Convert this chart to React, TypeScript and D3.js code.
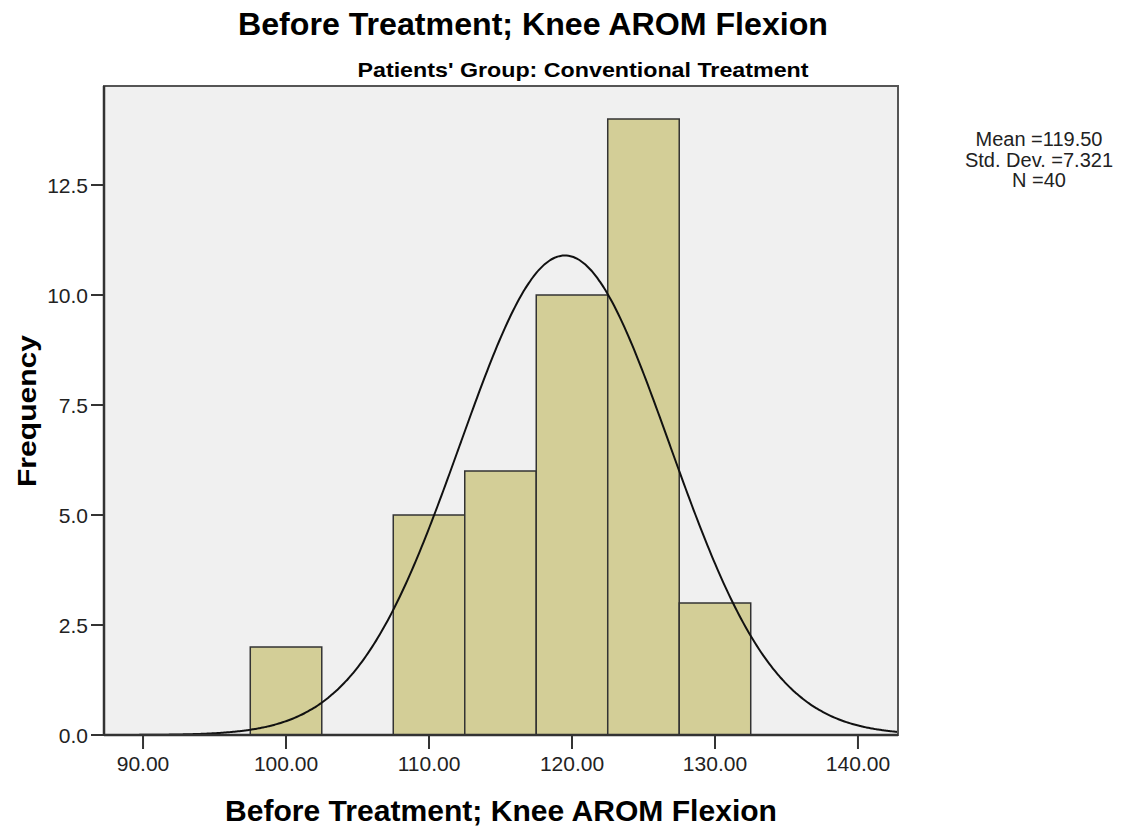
import React from "react";
import * as d3 from "d3";

const binStarts = [97.5, 102.5, 107.5, 112.5, 117.5, 122.5, 127.5];
const binWidth = 5;
const frequencies = [2, 0, 5, 6, 10, 14, 3];
const xTicks = [90, 100, 110, 120, 130, 140];
const yTicks = [0, 2.5, 5, 7.5, 10, 12.5];
const mean = 119.5;
const stdDev = 7.321;
const n = 40;
const statsLines = ["Mean =119.50", "Std. Dev. =7.321", "N =40"];

const W = 1126;
const H = 830;
const left = 104, right = 898, top = 86, bottom = 735;

export default function App() {
  const x = d3.scaleLinear().domain([87.27, 142.8]).range([left, right]);
  const y = d3.scaleLinear().domain([0, 14.75]).range([bottom, top]);
  const pdf = (v: number) =>
    (n * binWidth) / (stdDev * Math.sqrt(2 * Math.PI)) *
    Math.exp(-0.5 * ((v - mean) / stdDev) ** 2);
  const pts = d3.range(0, 401).map((i) => {
    const v = 87.27 + (i / 400) * (142.8 - 87.27);
    return [v, pdf(v)] as [number, number];
  });
  const line = d3.line<[number, number]>().x((d) => x(d[0])).y((d) => y(d[1])).curve(d3.curveBasis);
  const font = "'Liberation Sans', Arial, sans-serif";
  return (
    <svg width={W} height={H} style={{ position: "absolute", left: 0, top: 0 }} fontFamily={font}>
      <rect x={0} y={0} width={W} height={H} fill="#fff" />
      <text x={533} y={35} textAnchor="middle" fontSize={31} fontWeight="bold" fill="#000"
        textLength={590} lengthAdjust="spacingAndGlyphs">
        Before Treatment; Knee AROM Flexion
      </text>
      <text x={583} y={77} textAnchor="middle" fontSize={21} fontWeight="bold" fill="#000"
        textLength={451} lengthAdjust="spacingAndGlyphs">
        Patients' Group: Conventional Treatment
      </text>
      <rect x={left} y={top} width={right - left} height={bottom - top} fill="#f0f0f0" />
      {frequencies.map((f, i) =>
        f > 0 ? (
          <rect
            key={i}
            x={x(binStarts[i])}
            y={y(f)}
            width={x(binStarts[i] + binWidth) - x(binStarts[i])}
            height={y(0) - y(f)}
            fill="#d3ce97"
            stroke="#333"
            strokeWidth={1.5}
          />
        ) : null
      )}
      <path d={line(pts) || ""} fill="none" stroke="#111" strokeWidth={2} />
      <rect x={left} y={top} width={right - left} height={bottom - top} fill="none" stroke="#555" strokeWidth={2} />
      <line x1={left} x2={left} y1={top} y2={bottom} stroke="#333" strokeWidth={2.5} />
      <line x1={left} x2={right} y1={bottom} y2={bottom} stroke="#333" strokeWidth={2.5} />
      {yTicks.map((t) => (
        <g key={t}>
          <line x1={left - 13} x2={left} y1={y(t)} y2={y(t)} stroke="#333" strokeWidth={2} />
          <text x={88} y={y(t)} dy="0.36em" textAnchor="end" fontSize={21} fill="#222">
            {t.toFixed(1)}
          </text>
        </g>
      ))}
      {xTicks.map((t) => (
        <g key={t}>
          <line x1={x(t)} x2={x(t)} y1={bottom} y2={bottom + 14} stroke="#333" strokeWidth={2} />
          <text x={x(t)} y={771} textAnchor="middle" fontSize={21} fill="#222">
            {t.toFixed(2)}
          </text>
        </g>
      ))}
      <text x={501} y={821} textAnchor="middle" fontSize={30} fontWeight="bold" fill="#000"
        textLength={552} lengthAdjust="spacingAndGlyphs">
        Before Treatment; Knee AROM Flexion
      </text>
      <text transform="translate(36,411) rotate(-90)" textAnchor="middle" fontSize={25} fontWeight="bold" fill="#000"
        textLength={152} lengthAdjust="spacingAndGlyphs">
        Frequency
      </text>
      {statsLines.map((s, i) => (
        <text key={s} x={1039} y={146 + i * 20.5} textAnchor="middle" fontSize={20} fill="#222">
          {s}
        </text>
      ))}
    </svg>
  );
}
